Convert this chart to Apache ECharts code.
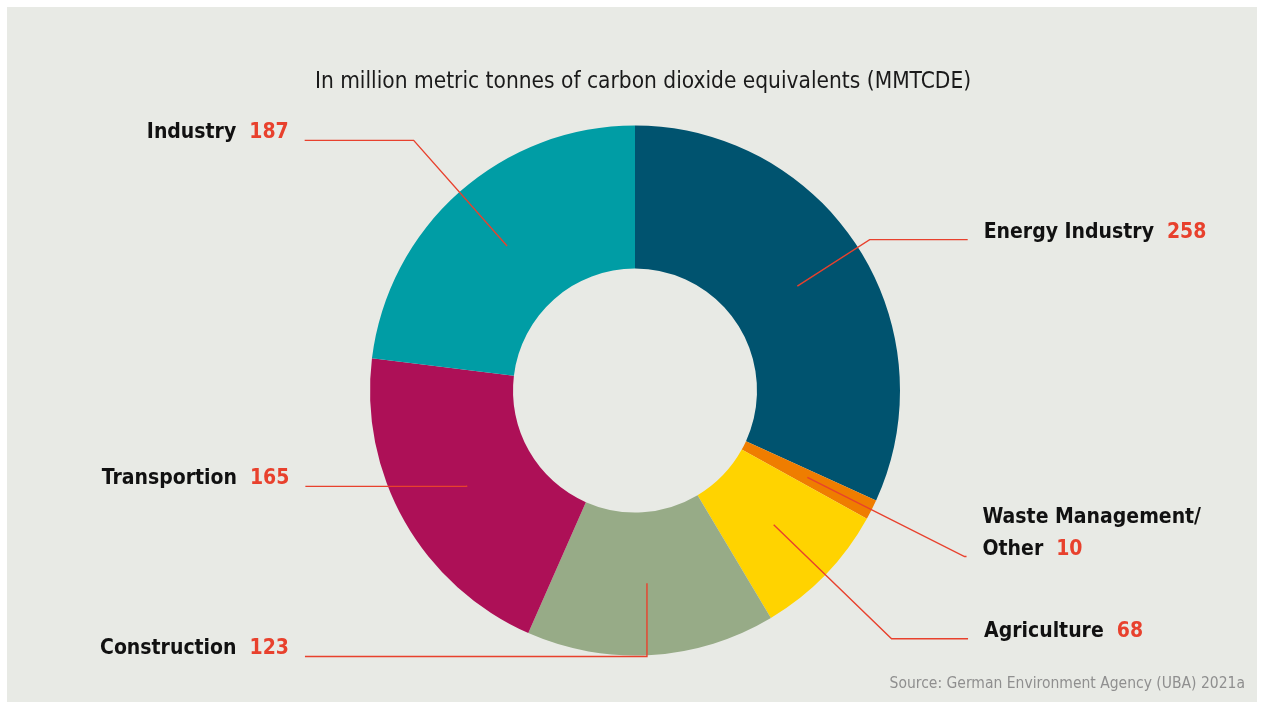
<!DOCTYPE html>
<html>
<head>
<meta charset="utf-8">
<script src="https://cdn.jsdelivr.net/npm/echarts@6/dist/echarts.min.js"></script>
<style>
  html, body { margin: 0; padding: 0; background: #ffffff; }
  #frame { position: absolute; left: 7px; top: 7px; width: 1250px; height: 695px; background: #e8eae5; }
  #chart { width: 1250px; height: 695px; }
</style>
</head>
<body>
<div id="frame"><div id="chart"></div></div>
<script>
// ---- data ----
const categories = ['Energy Industry', 'Waste Management/\nOther', 'Agriculture', 'Construction', 'Transportion', 'Industry'];
const values = [258, 10, 68, 123, 165, 187];
const sliceColors = ['#00536f', '#ef7d00', '#ffd300', '#97ab87', '#ad1057', '#009da5'];
const titleText = 'In million metric tonnes of carbon dioxide equivalents (MMTCDE)';
const sourceText = 'Source: German Environment Agency (UBA) 2021a';

// ---- leader line layout (lengths in px) ----
const leaderLen  = [86, 176, 164, 73.5, 1, 141];
const leaderLen2 = [98, 2, 76.5, 342, 161, 109];
const mirrored = ['Construction'];   // labels drawn on the opposite side, with a vertical first segment

const FONT = "'Liberation Sans Narrow', 'Arial Narrow', 'DejaVu Sans Condensed', sans-serif";
const RED = '#e8412d';

const pieData = categories.map((c, i) => ({ name: c, value: values[i], itemStyle: { color: sliceColors[i] } }));

const labelData = categories.map((c, i) => {
  const lines = c.split('\n');
  const last = lines.pop();
  const txt = lines.map(l => '{n|' + l + '}').concat(['{n|' + last + '}{v|' + values[i] + '}']).join('\n');
  return {
    name: c,
    value: values[i],
    label: { formatter: txt, padding: [0, 0, lines.length ? 47 : 15, 0] },
    labelLine: { length: leaderLen[i], length2: leaderLen2[i] }
  };
});

const chart = echarts.init(document.getElementById('chart'), null, { renderer: 'canvas' });
const CENTER = [628, 383.5];

chart.setOption({
  backgroundColor: 'transparent',
  animation: false,
  title: [
    { text: titleText, left: 636, top: 64, padding: 0, textAlign: 'center',
      textStyle: { fontFamily: FONT, fontSize: 22.5, fontWeight: 'normal', color: '#1a1a1a' } },
    { text: sourceText, right: 12, bottom: 10, padding: 0,
      textStyle: { fontFamily: FONT, fontSize: 15.5, fontWeight: 'normal', color: '#8f8f8f' } }
  ],
  series: [
    {
      type: 'pie',
      center: CENTER,
      radius: [122, 265],
      startAngle: 90,
      clockwise: true,
      silent: true,
      label: { show: false },
      labelLine: { show: false },
      emphasis: { disabled: true },
      data: pieData
    },
    {
      type: 'pie',
      center: CENTER,
      radius: [0, 193],
      startAngle: 90,
      clockwise: true,
      silent: true,
      z: 5,
      avoidLabelOverlap: false,
      itemStyle: { color: 'rgba(0,0,0,0)' },
      emphasis: { disabled: true },
      label: {
        show: true,
        position: 'outside',
        alignTo: 'none',
        distanceToLabelLine: 16,
        rich: {
          n: { fontFamily: FONT, fontSize: 21, fontWeight: 'bold', color: '#111111', lineHeight: 32 },
          v: { fontFamily: FONT, fontSize: 21, fontWeight: 'bold', color: RED, lineHeight: 32, padding: [0, 0, 0, 13] }
        }
      },
      labelLine: {
        show: true,
        smooth: false,
        minTurnAngle: 0,
        lineStyle: { color: RED, width: 1.4 }
      },
      labelLayout: function (params) {
        const name = categories[params.dataIndex];
        if (mirrored.indexOf(name) >= 0 && params.labelLinePoints) {
          const p = params.labelLinePoints;
          const turnX = p[0][0];
          const endX = turnX - (p[2][0] - p[1][0]);
          const pts = [[p[0][0], p[0][1]], [turnX, p[1][1]], [endX, p[2][1]]];
          return { x: endX - 16, y: p[2][1], align: 'right', labelLinePoints: pts };
        }
        return {};
      },
      data: labelData
    }
  ]
});
</script>
</body>
</html>
